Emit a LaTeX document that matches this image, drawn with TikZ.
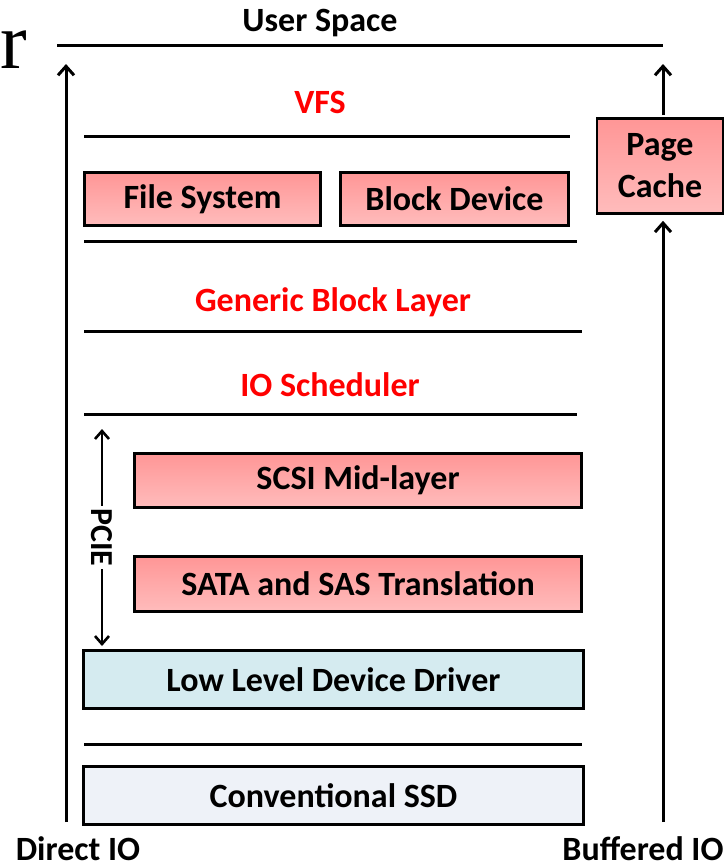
\documentclass[tikz,border=0pt]{standalone}
\usepackage{fontspec}
\setmainfont{Carlito}
\newfontfamily\seriffam{Liberation Serif}
\usetikzlibrary{arrows.meta}
\definecolor{pinkTop}{HTML}{FF9696}
\definecolor{pinkBot}{HTML}{FFBCBC}
\definecolor{lldd}{HTML}{D5EBF0}
\definecolor{ssd}{HTML}{EEF2F8}
\begin{document}
\begin{tikzpicture}[x=1pt,y=-1pt,
  lbl/.style={font=\fontsize{34}{38}\selectfont\bfseries, inner sep=0pt},
  redlbl/.style={lbl, text=red},
  sepline/.style={line width=3pt},
  boxbase/.style={draw, line width=2.6pt, inner sep=0pt, font=\fontsize{34}{38}\selectfont\bfseries},
  redbox/.style={boxbase, top color=pinkTop, bottom color=pinkBot},
  arr/.style={line width=3pt, -{Straight Barb[length=9pt,width=16pt,line width=3pt]}},
  darr/.style={line width=2.6pt, {Straight Barb[length=8pt,width=14pt,line width=2.6pt]}-{Straight Barb[length=8pt,width=14pt,line width=2.6pt]}}
]
\useasboundingbox (0,0) rectangle (725,865);

% partial serif letter
\node[font=\seriffam\fontsize{80}{80}\selectfont, anchor=base west, inner sep=0pt] (rr) at (0,68) {r};

% labels
\node[lbl] (us) at (320,23) {User Space};
\node[redlbl] (vfs) at (320,102) {VFS};
\node[redlbl] (gbl) at (333,302) {Generic Block Layer};
\node[redlbl] (ios) at (330,385) {IO Scheduler};

% separator lines
\coordinate (l0a) at (57,45);  \coordinate (l0b) at (663,45);
\coordinate (l1a) at (84,136); \coordinate (l1b) at (570,136);
\coordinate (l2a) at (84,241); \coordinate (l2b) at (577,241);
\coordinate (l3a) at (84,331); \coordinate (l3b) at (582,331);
\coordinate (l4a) at (84,414); \coordinate (l4b) at (577,414);
\coordinate (l5a) at (84,744); \coordinate (l5b) at (582,744);
\draw[sepline] (l0a) -- (l0b);
\draw[sepline] (l1a) -- (l1b);
\draw[sepline] (l2a) -- (l2b);
\draw[sepline] (l3a) -- (l3b);
\draw[sepline] (l4a) -- (l4b);
\draw[sepline] (l5a) -- (l5b);

% boxes
\node[redbox, minimum width=236pt, minimum height=53pt] (fs) at (202.5,199) {File System};
\node[redbox, minimum width=228pt, minimum height=53pt] (bd) at (454.5,199) {Block Device};
\node[redbox, minimum width=447pt, minimum height=54pt] (scsi) at (358,480.5) {SCSI Mid-layer};
\node[redbox, minimum width=447pt, minimum height=55pt] (sata) at (358,584) {SATA and SAS Translation};
\node[boxbase, fill=lldd, minimum width=500pt, minimum height=58pt] (drv) at (333.5,679.5) {Low Level Device Driver};
\node[boxbase, fill=ssd, minimum width=500pt, minimum height=58pt] (ssdn) at (333.5,795.5) {Conventional SSD};
\node[redbox, minimum width=126pt, minimum height=95pt, align=center, font=\fontsize{34}{42}\selectfont\bfseries] (pc) at (660,166) {Page\\Cache};

% IO paths
\coordinate (dioB) at (66,822); \coordinate (dioT) at (66,64);
\draw[arr] (dioB) -- (dioT);
\coordinate (bioB) at (663,822);
\draw[arr] (bioB) -- ([yshift=-6pt]pc.south -| bioB);
\coordinate (bioT) at (663,64);
\draw[arr] ([yshift=2pt]pc.north -| bioT) -- (bioT);

\node[lbl, anchor=base, text depth=0pt] (dio) at (78,860) {Direct IO};
\node[lbl, anchor=base, text depth=0pt] (bio) at (643,860) {Buffered IO};

% PCIE
\coordinate (pcT) at (102,429); \coordinate (pcB) at (102,646);
\draw[darr] (pcT) -- (pcB) node[midway, fill=white, rotate=-90, inner sep=2pt, font=\fontsize{32}{34}\selectfont\bfseries] (pcie) {PCIE};
\end{tikzpicture}
\end{document}
